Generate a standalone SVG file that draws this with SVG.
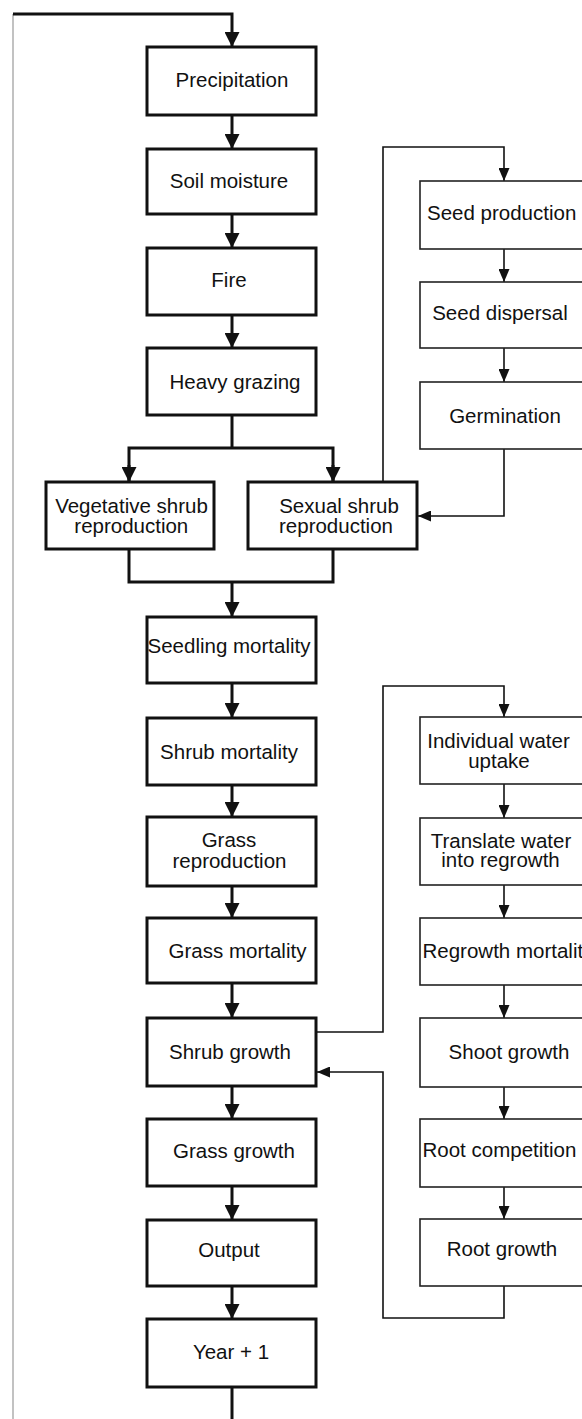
<svg xmlns="http://www.w3.org/2000/svg" width="582" height="1419" viewBox="0 0 582 1419">
<style>
text{font-family:"Liberation Sans",Arial,sans-serif;font-size:20.5px;fill:#111;text-anchor:middle}
text.s{text-anchor:start}
.mb{fill:#fff;stroke:#111;stroke-width:3}
.rb{fill:#fff;stroke:#222;stroke-width:1.6}
.mc{fill:none;stroke:#111;stroke-width:3}
.rc{fill:none;stroke:#111;stroke-width:1.6}
</style>
<defs>
<marker id="am" markerUnits="userSpaceOnUse" viewBox="0 0 15 15" markerWidth="15" markerHeight="15" refX="15" refY="7.5" orient="auto"><path d="M0,0 L15,7.5 L0,15 z" fill="#111"/></marker>
<marker id="ar" markerUnits="userSpaceOnUse" viewBox="0 0 13 11" markerWidth="13" markerHeight="11" refX="13" refY="5.5" orient="auto"><path d="M0,0 L13,5.5 L0,11 z" fill="#111"/></marker>
</defs>
<rect width="582" height="1419" fill="#fff"/>
<line x1="13" y1="14" x2="13" y2="1419" stroke="#999" stroke-width="1.2"/>
<g id="connectors">
<path class="mc" d="M13,14 H232 V47" marker-end="url(#am)"/>
<path class="mc" d="M232,115 V149" marker-end="url(#am)"/>
<path class="mc" d="M232,214 V248" marker-end="url(#am)"/>
<path class="mc" d="M232,315 V348" marker-end="url(#am)"/>
<path class="mc" d="M232,415 V448"/>
<path class="mc" d="M129,482 V448 H333 V482"/>
<path class="mc" d="M129,465 V482" marker-end="url(#am)"/>
<path class="mc" d="M333,465 V482" marker-end="url(#am)"/>
<path class="mc" d="M129,549 V582 H333 V549"/>
<path class="mc" d="M232,582 V617" marker-end="url(#am)"/>
<path class="mc" d="M232,683 V718" marker-end="url(#am)"/>
<path class="mc" d="M232,785 V817" marker-end="url(#am)"/>
<path class="mc" d="M232,886 V918" marker-end="url(#am)"/>
<path class="mc" d="M232,983 V1018" marker-end="url(#am)"/>
<path class="mc" d="M232,1086 V1119" marker-end="url(#am)"/>
<path class="mc" d="M232,1186 V1220" marker-end="url(#am)"/>
<path class="mc" d="M232,1286 V1319" marker-end="url(#am)"/>
<path class="mc" d="M232,1387 V1419"/>
<path class="rc" d="M383,482 V147 H504 V181" marker-end="url(#ar)"/>
<path class="rc" d="M504,249 V282" marker-end="url(#ar)"/>
<path class="rc" d="M504,348 V382" marker-end="url(#ar)"/>
<path class="rc" d="M504,449 V516 H418" marker-end="url(#ar)"/>
<path class="rc" d="M316,1032 H383 V686 H504 V717" marker-end="url(#ar)"/>
<path class="rc" d="M504,784 V818" marker-end="url(#ar)"/>
<path class="rc" d="M504,885 V918" marker-end="url(#ar)"/>
<path class="rc" d="M504,985 V1018" marker-end="url(#ar)"/>
<path class="rc" d="M504,1087 V1119" marker-end="url(#ar)"/>
<path class="rc" d="M504,1187 V1219" marker-end="url(#ar)"/>
<path class="rc" d="M504,1286 V1318 H383 V1072 H317" marker-end="url(#ar)"/>
</g>
<g id="precipitation"><rect class="mb" x="147" y="47" width="169" height="68"/><text x="232" y="87">Precipitation</text></g>
<g id="soil-moisture"><rect class="mb" x="147" y="149" width="169" height="65"/><text x="229" y="188">Soil moisture</text></g>
<g id="fire"><rect class="mb" x="147" y="248" width="169" height="67"/><text x="229" y="287">Fire</text></g>
<g id="heavy-grazing"><rect class="mb" x="147" y="348" width="169" height="67"/><text x="235" y="389">Heavy grazing</text></g>
<g id="vegetative"><rect class="mb" x="46" y="482" width="168" height="67"/><text x="131.5" y="513">Vegetative shrub</text><text x="131.3" y="533">reproduction</text></g>
<g id="sexual"><rect class="mb" x="248" y="482" width="169" height="67"/><text x="339" y="513">Sexual shrub</text><text x="336" y="533">reproduction</text></g>
<g id="seedling-mortality"><rect class="mb" x="147" y="617" width="169" height="66"/><text x="229" y="653">Seedling mortality</text></g>
<g id="shrub-mortality"><rect class="mb" x="147" y="718" width="169" height="67"/><text x="229" y="759">Shrub mortality</text></g>
<g id="grass-reproduction"><rect class="mb" x="147" y="817" width="169" height="69"/><text x="229" y="847">Grass</text><text x="229.5" y="868">reproduction</text></g>
<g id="grass-mortality"><rect class="mb" x="147" y="918" width="169" height="65"/><text x="237.5" y="958">Grass mortality</text></g>
<g id="shrub-growth"><rect class="mb" x="147" y="1018" width="169" height="68"/><text x="230" y="1059">Shrub growth</text></g>
<g id="grass-growth"><rect class="mb" x="147" y="1119" width="169" height="67"/><text x="234" y="1158">Grass growth</text></g>
<g id="output"><rect class="mb" x="147" y="1220" width="169" height="66"/><text x="229" y="1257">Output</text></g>
<g id="year-plus-1"><rect class="mb" x="147" y="1319" width="169" height="68"/><text x="231" y="1359">Year + 1</text></g>
<g id="seed-production"><rect class="rb" x="420" y="181" width="168" height="68"/><text class="s" x="427" y="220">Seed production</text></g>
<g id="seed-dispersal"><rect class="rb" x="420" y="282" width="168" height="66"/><text x="500" y="320">Seed dispersal</text></g>
<g id="germination"><rect class="rb" x="420" y="382" width="168" height="67"/><text x="505" y="423">Germination</text></g>
<g id="individual-water-uptake"><rect class="rb" x="420" y="717" width="168" height="67"/><text x="498.5" y="748">Individual water</text><text x="499" y="768">uptake</text></g>
<g id="translate-water"><rect class="rb" x="420" y="818" width="168" height="67"/><text x="501" y="848">Translate water</text><text x="500.5" y="867">into regrowth</text></g>
<g id="regrowth-mortality"><rect class="rb" x="420" y="918" width="168" height="67"/><text class="s" x="422.5" y="958">Regrowth mortality</text></g>
<g id="shoot-growth"><rect class="rb" x="420" y="1018" width="168" height="69"/><text x="509" y="1059">Shoot growth</text></g>
<g id="root-competition"><rect class="rb" x="420" y="1119" width="168" height="68"/><text class="s" x="422.5" y="1157">Root competition</text></g>
<g id="root-growth"><rect class="rb" x="420" y="1219" width="168" height="67"/><text x="502" y="1256">Root growth</text></g>
</svg>
